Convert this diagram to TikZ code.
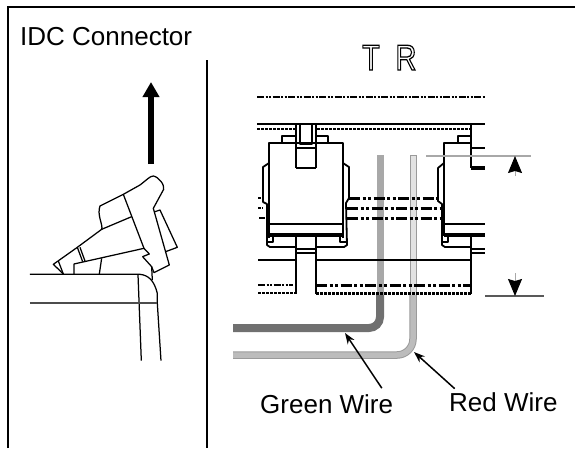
\documentclass[tikz,border=0pt]{standalone}
\usepackage{fontspec}
\setmainfont{Liberation Sans}
\usetikzlibrary{arrows.meta}
\definecolor{WireGreen}{HTML}{707070}
\definecolor{WireGreenPale}{HTML}{a8a8a8}
\definecolor{WireRed}{HTML}{bcbcbc}
\definecolor{WireRedPale}{HTML}{e2e2e2}
\definecolor{WireEdge}{HTML}{9a9a9a}
\definecolor{DimGrey}{HTML}{a8a8a8}
\tikzstyle{wire-label}=[inner sep=0pt, anchor=base west, font=\fontsize{26}{26}\selectfont]
\tikzstyle{outline-label}=[inner sep=0pt, anchor=base, xscale=.8, font=\fontsize{36}{36}\selectfont]
\tikzstyle{leader}=[line width=1.5pt, -{Stealth[length=11pt,width=8pt]}]
\tikzstyle{part}=[line width=1.25pt, line join=round]
\tikzstyle{part-bold}=[line width=1.8pt, line join=round]
\tikzstyle{part-heavy}=[line width=3.2pt]
\tikzstyle{rail-dash}=[line width=2pt, dash pattern=on 7pt off 1.5pt on 2pt off 1.5pt on 2pt off 1.5pt]
\tikzstyle{rail-dot}=[line width=2.4pt, dash pattern=on 3pt off 1pt]
\tikzstyle{rail-heavy}=[line width=3pt, dash pattern=on 11pt off 2.5pt on 3pt off 2.5pt on 3pt off 2.5pt]
\tikzstyle{dim-arrow}=[line width=1pt, DimGrey, -{Stealth[length=17pt,width=14pt,inset=2pt,black]}]
\newcommand{\outlined}[1]{\special{pdf:code q 1 Tr 1.3 w}#1\special{pdf:code Q}}
\begin{document}
\begin{tikzpicture}[x=1pt, y=-1pt]
      \useasboundingbox (0,0) rectangle (575,448);
      % frame
      \draw[line width=2.2pt] (8,448) -- (8,7) -- (575,7);
      \draw[line width=1.5pt] (207,60) -- (207,448);

      \node (title) at (20,45) [wire-label] {IDC Connector};
      \node (letterT) at (371,70) [outline-label] {\outlined{T}};
      \node (letterR) at (406,70) [outline-label] {\outlined{R}};

      % lift arrow
      \coordinate (liftfoot) at (151,164);
      \coordinate (lifttip) at (151,82);
      \draw[line width=5.5pt, -{Triangle[length=15pt,width=16pt]}] (liftfoot) -- (lifttip);

      % side view
      \begin{scope}[shift={(0,130)}, x=.3333pt, y=-.3333pt]
        \draw[part] (190,432) -- (160,403) -- (232,352) -- (305,298)
              .. controls (310,285) and (290,255) .. (300,228) -- (370,193) -- (420,165)
              .. controls (440,150) and (450,138) .. (460,138)
              .. controls (475,140) and (495,165) .. (491,178)
              -- (460,235) -- (508,405) -- (462,428) -- (455,410) -- (428,380) -- (448,372)
              -- (432,355) -- (222,402) -- (222,432);
        \draw[part] (305,298) -- (395,260);
        \draw[part] (370,193) -- (432,355);
        \draw[part] (465,245) -- (480,240) -- (532,352) -- (497,365);
        \draw[part] (232,352) -- (248,395);
        \draw[part] (240,352) -- (255,393);
        \draw[part] (175,393) -- (190,432);
        \draw[part] (305,385) -- (298,432);
        \draw[part] (455,410) -- (457,450);
        \draw[part] (90,433) -- (420,433)
              .. controls (445,436) and (462,450) .. (472,490) -- (472,520) -- (483,692);
        \draw[part] (414,433) -- (424,692);
        \draw[line width=1.3pt, black!70] (90,519) -- (472,519);
      \end{scope}

      % wires
      \draw[line width=8pt, WireGreen, rounded corners=11pt] (380,295) -- (380,328) -- (233,328);
      \draw[line width=7pt, WireGreenPale] (380,155) -- (380,295);
      \draw[line width=7.5pt, WireEdge, rounded corners=16pt] (413,295) -- (413,355) -- (233,355);
      \draw[line width=5.5pt, WireRed, rounded corners=16pt] (413,295) -- (413,355) -- (233,355);
      \draw[line width=7pt, WireEdge] (413,155) -- (413,295);
      \draw[line width=5pt, WireRedPale] (413,156) -- (413,295);

      % rails
      \draw[rail-dash] (257,97) -- (485,97);
      \draw[line width=1.8pt] (257,124) -- (485,124);
      \draw[rail-dot] (257,129) -- (295,129);
      \draw[rail-dot] (317,129) -- (470,129);
      \draw[rail-heavy] (349,198) -- (438,198);
      \draw[rail-heavy] (347,208) -- (440,208);
      \draw[rail-heavy] (347,218) -- (441,218);
      \draw[rail-dot] (258,198) -- (262,198);
      \draw[rail-dot] (258,208) -- (263,208);
      \draw[line width=2.4pt] (259,218) -- (265,218);
      \draw[part-bold] (258,260) -- (296,260);
      \draw[part-bold] (316,260) -- (471,260);
      \draw[line width=2.6pt] (367,260) -- (428,260);
      \draw[rail-dash] (258,285) -- (293,285);
      \draw[rail-heavy] (316,285) -- (471,285);
      \draw[rail-dot] (258,293) -- (296,293);
      \draw[rail-dot, line width=3pt] (316,293) -- (471,293);

      % left housing
      \draw[part-bold] (296,124) -- (296,168);
      \draw[part-bold] (316,124) -- (316,168);
      \draw[part] (300,124) -- (300,144) -- (312,144) -- (312,124);
      \draw[part] (296,148) -- (316,148);
      \draw[line width=2.8pt] (296,168) -- (316,168);
      \draw[part] (295,136) -- (282,136) -- (282,142);
      \draw[part] (316,136) -- (328,136) -- (328,142);
      \draw[part-bold] (269,238) -- (269,143) -- (343,143) -- (343,238);
      \draw[part-bold] (269,163) -- (263,167) -- (263,202) -- (267,204) -- (267,245)
            -- (270,247) -- (296,247);
      \draw[part-bold] (343,163) -- (349,167) -- (349,198) -- (346,203) -- (347,245)
            -- (344,247) -- (316,247);
      \draw[part] (269,224) -- (343,224);
      \draw[part-heavy] (269,235) -- (343,235);
      \draw[part] (267,242) -- (273,242) -- (273,237);
      \draw[part] (346,242) -- (340,242) -- (340,237);
      \draw[part-bold] (296,237) -- (296,294);
      \draw[part-bold] (316,237) -- (316,294);
      \draw[part] (296,249) -- (316,249);
      \draw[part] (296,253) -- (316,253);

      % right housing
      \draw[part-bold] (471,124) -- (471,168);
      \draw[part-heavy] (471,168) -- (485,168);
      \draw[part] (471,148) -- (485,148);
      \draw[part-bold] (471,143) -- (444,143) -- (444,236);
      \draw[part] (470,136) -- (458,136) -- (458,142);
      \draw[part-bold] (444,163) -- (438,168) -- (438,201) -- (442,204) -- (442,245)
            -- (445,247) -- (471,247);
      \draw[part] (444,224) -- (485,224);
      \draw[part-heavy] (444,235) -- (485,235);
      \draw[part] (442,242) -- (448,242) -- (448,237);
      \draw[part-bold] (471,237) -- (471,294);
      \draw[part] (471,249) -- (485,249);
      \draw[part] (471,253) -- (485,253);

      % dimension
      \coordinate (dimtopleft) at (426,156);
      \coordinate (dimtopright) at (531,156);
      \coordinate (dimlowleft) at (485,296);
      \coordinate (dimlowright) at (544,296);
      \coordinate (dimuptail) at (515,176);
      \coordinate (dimuptip) at (515,156);
      \coordinate (dimdowntail) at (515,273);
      \coordinate (dimdowntip) at (515,296);
      \draw[line width=1.2pt, DimGrey] (dimtopleft) -- (dimtopright);
      \draw[line width=1.1pt, black!65] (dimlowleft) -- (dimlowright);
      \draw[dim-arrow] (dimuptail) -- (dimuptip);
      \draw[dim-arrow] (dimdowntail) -- (dimdowntip);

      % wire labels
      \node (greenlabel) at (260,413) [wire-label] {Green Wire};
      \node (redlabel) at (449,411) [wire-label] {Red Wire};
      \coordinate (greentip) at (345,333);
      \coordinate (redtip) at (414,352);
      \draw[leader, shorten <=7pt] ([xshift=59pt]greenlabel.north) -- (greentip);
      \draw[leader, shorten <=5pt] ([xshift=-45pt]redlabel.north) -- (redtip);
\end{tikzpicture}
\end{document}
